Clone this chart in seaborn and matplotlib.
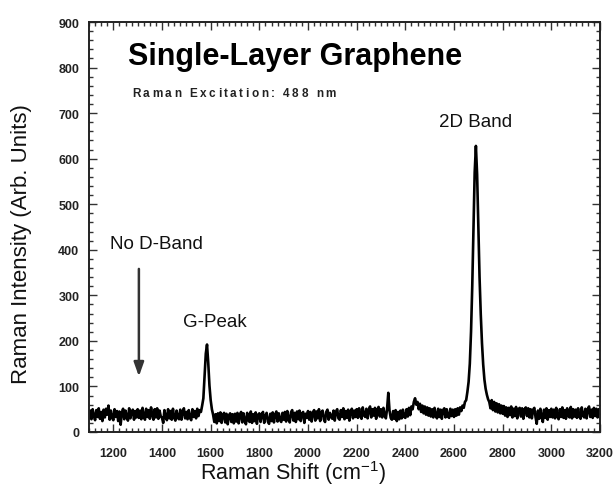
import numpy as np
import pandas as pd
import matplotlib
matplotlib.use("Agg")
import matplotlib.pyplot as plt
import matplotlib.transforms as mtransforms
from matplotlib.ticker import MultipleLocator
import seaborn as sns

# ---------------- data ----------------
shift_start = 1100
shift_step = 5
intensity = [
    # 1100-1195
    30, 47, 28, 50, 35, 26, 48, 33, 52, 29, 44, 24, 49, 32, 51, 38, 58, 27, 47, 31,
    # 1200-1295
    26, 50, 33, 46, 24, 45, 16, 42, 51, 28, 47, 34, 25, 52, 30, 44, 49, 27, 46, 32,
    # 1300-1395
    50, 31, 47, 28, 53, 36, 27, 51, 33, 48, 29, 54, 37, 27, 50, 32, 52, 29, 47, 34,
    # 1400-1495
    31, 20, 48, 33, 26, 50, 30, 46, 27, 51, 32, 25, 47, 31, 28, 49, 27, 45, 52, 30,
    # 1500-1595 (G peak)
    44, 28, 48, 31, 26, 50, 33, 46, 30, 51, 35, 48, 44, 58, 74, 122, 172, 192, 152, 102,
    # 1600-1695
    70, 50, 38, 22, 39, 19, 41, 24, 43, 20, 37, 42, 21, 40, 17, 36, 41, 22, 39, 19,
    # 1700-1795
    40, 23, 42, 19, 37, 44, 21, 41, 25, 17, 42, 26, 22, 45, 20, 39, 24, 43, 18, 38,
    # 1800-1895
    41, 22, 39, 44, 20, 36, 42, 23, 18, 40, 24, 43, 21, 38, 45, 23, 41, 26, 22, 42,
    # 1900-1995
    27, 44, 23, 46, 29, 21, 43, 48, 25, 42, 22, 45, 28, 47, 24, 41, 44, 20, 40, 31,
    # 2000-2095
    46, 27, 44, 23, 42, 48, 25, 45, 30, 50, 24, 43, 47, 28, 22, 44, 49, 27, 42, 33,
    # 2100-2195
    29, 47, 25, 45, 50, 30, 27, 48, 33, 52, 28, 46, 31, 49, 25, 45, 51, 30, 47, 33,
    # 2200-2295
    50, 31, 52, 35, 29, 54, 37, 33, 51, 30, 49, 56, 32, 50, 36, 53, 29, 49, 55, 34,
    # 2300-2395
    50, 32, 53, 36, 30, 51, 86, 47, 31, 27, 46, 29, 48, 24, 44, 28, 47, 30, 49, 33,
    # 2400-2495
    31, 50, 34, 53, 37, 56, 50, 66, 74, 60, 66, 50, 62, 44, 58, 41, 56, 38, 54, 36,
    # 2500-2595
    52, 34, 50, 32, 53, 36, 30, 51, 33, 49, 29, 48, 52, 32, 50, 34, 31, 51, 35, 49,
    # 2600-2695 (2D band)
    33, 50, 36, 52, 38, 54, 46, 58, 53, 66, 70, 88, 110, 150, 220, 320, 450, 570, 628, 565,
    # 2700-2795
    450, 340, 258, 195, 148, 115, 95, 82, 72, 66, 52, 70, 48, 66, 45, 63, 43, 61, 41, 58,
    # 2800-2895
    40, 57, 36, 54, 33, 53, 37, 56, 32, 51, 35, 55, 30, 50, 53, 34, 52, 29, 49, 54,
    # 2900-2995
    35, 52, 32, 50, 30, 49, 53, 33, 18, 47, 29, 51, 34, 22, 49, 31, 52, 27, 48, 33,
    # 3000-3095
    51, 32, 49, 30, 53, 34, 28, 50, 33, 54, 31, 48, 29, 52, 35, 32, 55, 30, 50, 34,
    # 3100-3195
    49, 31, 52, 34, 29, 54, 36, 32, 51, 30, 50, 56, 33, 49, 31, 53, 35, 51, 32, 50,
    # 3200
    42,
]
raman_shift = [shift_start + shift_step * i for i in range(len(intensity))]

x_ticks = [1200, 1400, 1600, 1800, 2000, 2200, 2400, 2600, 2800, 3000, 3200]
y_ticks = [0, 100, 200, 300, 400, 500, 600, 700, 800, 900]

title_text = "Single-Layer Graphene"
subtitle_text = "Raman Excitation: 488 nm"
label_2d = "2D Band"
label_g = "G-Peak"
label_d = "No D-Band"
arrow_x = 1305
arrow_y_from = 358
arrow_y_to = 122

df = pd.DataFrame({"shift": raman_shift, "intensity": intensity})

# ---------------- figure ----------------
W, H = 616, 502
sns.set_theme(style="ticks")
plt.rcParams["font.family"] = ["Liberation Sans", "DejaVu Sans"]
plt.rcParams["mathtext.fontset"] = "custom"
plt.rcParams["mathtext.rm"] = "Liberation Sans"
plt.rcParams["mathtext.default"] = "regular"

fig = plt.figure(figsize=(W / 100, H / 100), dpi=100)
fig.patch.set_facecolor("white")
ax = fig.add_axes([89 / W, 1 - 433 / H, (600 - 89) / W, (433 - 23) / H])
ax.set_facecolor("white")

sns.lineplot(data=df, x="shift", y="intensity", ax=ax, color="black",
             linewidth=1.9, estimator=None, sort=False)

ax.set_xlim(1100, 3200)
ax.set_ylim(0, 900)
ax.set_xticks(x_ticks)
ax.set_yticks(y_ticks)
ax.xaxis.set_minor_locator(MultipleLocator(25))
ax.yaxis.set_minor_locator(MultipleLocator(20))
ax.set_xlabel("")
ax.set_ylabel("")
for sp in ax.spines.values():
    sp.set_visible(True)
    sp.set_linewidth(1.4)
    sp.set_color("#222222")
ax.tick_params(which="both", direction="in", top=True, right=True,
               color="#333333", width=1.0)
ax.tick_params(which="major", length=6)
ax.tick_params(which="minor", length=3)
ax.tick_params(axis="x", which="major", pad=11, labelsize=9, labelcolor="#222222")
ax.tick_params(axis="y", which="major", pad=7, labelsize=9, labelcolor="#222222")
for lab in ax.get_xticklabels() + ax.get_yticklabels():
    lab.set_fontweight("bold")

ident = mtransforms.IdentityTransform()


def px(x, y):
    return x, H - y


# axis labels
fig.text(*px(293, 480), "Raman Shift (cm$^{-1}$)", ha="center", va="baseline",
         fontsize=15.5, color="#111111", transform=ident)
fig.text(*px(27, 244), "Raman Intensity (Arb. Units)", ha="center", va="baseline",
         rotation=90, rotation_mode="anchor", fontsize=16, color="#111111",
         transform=ident)

# title
fig.text(*px(128, 65), title_text, ha="left", va="baseline", fontsize=22,
         fontweight="bold", color="black", transform=ident)

# letter-spaced subtitle
renderer = fig.canvas.get_renderer()
sub_size = 8.5
probe = fig.text(0, 0, "", fontsize=sub_size, fontweight="bold", transform=ident)


def prefix_width(s):
    if not s:
        return 0.0
    probe.set_text(s.replace(" ", "\u00a0"))
    return probe.get_window_extent(renderer).width


x0, yb = px(132, 97)
spacing = 2.5
for i, ch in enumerate(subtitle_text):
    if ch == " ":
        continue
    xi = x0 + prefix_width(subtitle_text[:i]) + i * spacing
    fig.text(xi, yb, ch, fontsize=sub_size, fontweight="bold", color="#222222",
             ha="left", va="baseline", transform=ident)
probe.remove()

# annotations
fig.text(*px(475.5, 127), label_2d, ha="center", va="baseline", fontsize=13.5,
         color="#111111", transform=ident)
fig.text(*px(156, 249), label_d, ha="center", va="baseline", fontsize=13.5,
         color="#111111", transform=ident)
fig.text(*px(215, 327), label_g, ha="center", va="baseline", fontsize=13.5,
         color="#111111", transform=ident)

ax.annotate("", xy=(arrow_x, arrow_y_to), xytext=(arrow_x, arrow_y_from),
            arrowprops=dict(arrowstyle="-|>,head_length=0.7,head_width=0.25",
                            color="#333333", lw=1.8, shrinkA=0, shrinkB=0))

fig.savefig("out.png", dpi=100)
